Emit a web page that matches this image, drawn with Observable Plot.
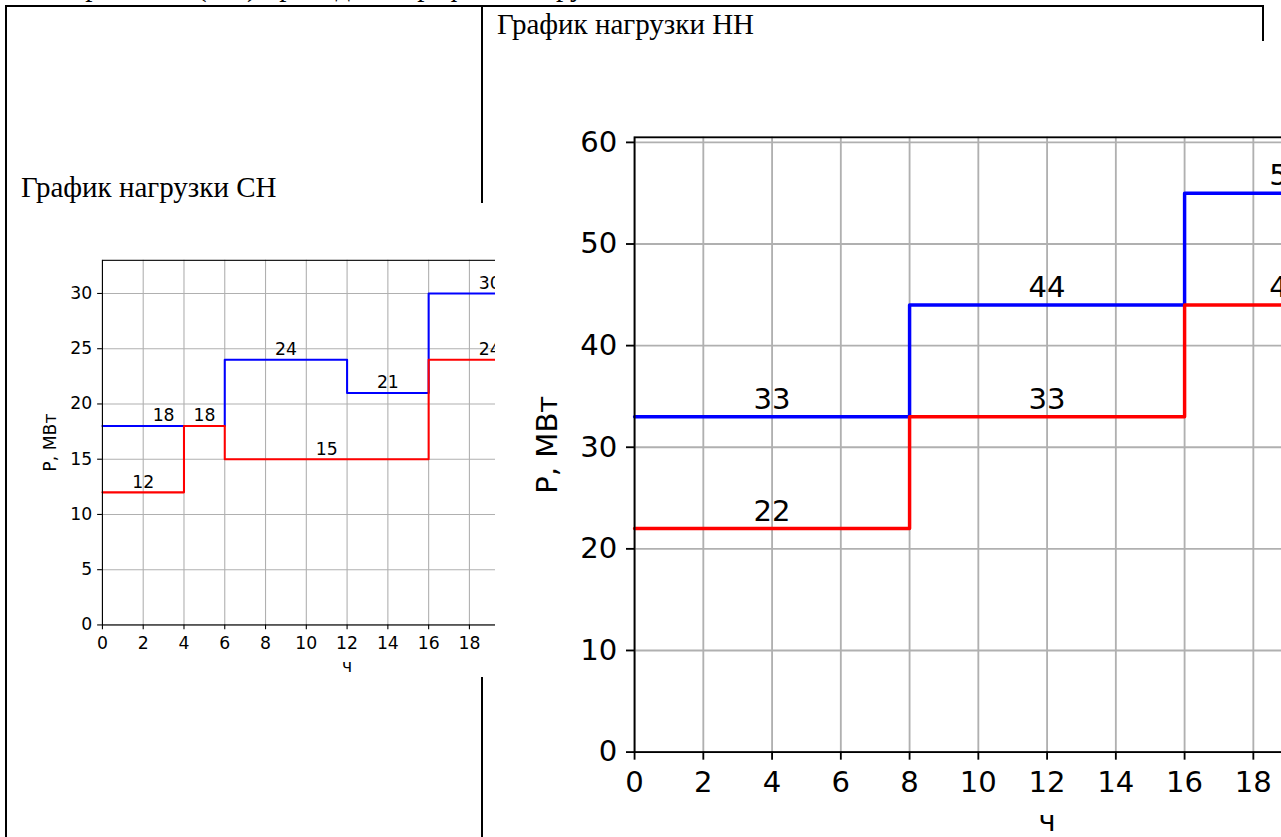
<!DOCTYPE html>
<html>
<head>
<meta charset="utf-8">
<script src="https://cdn.jsdelivr.net/npm/d3@7"></script>
<script src="https://cdn.jsdelivr.net/npm/@observablehq/plot@0.6"></script>
<style>
  html, body { margin: 0; padding: 0; width: 1281px; height: 837px; overflow: hidden; background: #fff; }
  .abs { position: absolute; }
  .cap { font-family: "Liberation Serif", "Times New Roman", serif; font-size: 29px; line-height: 29px; color: #000; white-space: nowrap; }
  .bd { position: absolute; background: #000; }
  .chartbox { position: absolute; overflow: hidden; background: #fff; }
  .chartbox svg { display: block; max-width: none !important; }
</style>
</head>
<body>
<!-- text line cut by the top of the window -->
<div class="cap abs" style="top:-28px; right:1091px; text-align:right;">Графики нагрузки для сети напряжения</div>
<div class="cap abs" style="top:-28px; left:197px;">(СН) приведены графики нагрузки</div>

<!-- table borders -->
<div class="bd" style="left:5px; top:5px; width:1259px; height:2px;"></div>
<div class="bd" style="left:5px; top:5px; width:2px; height:840px;"></div>
<div class="bd" style="left:481px; top:5px; width:2px; height:840px;"></div>
<div class="bd" style="left:1262px; top:5px; width:2px; height:840px;"></div>

<div class="chartbox" id="cn" style="left:23.4px; top:203.2px; width:471.6px; height:474px;"></div>
<div class="chartbox" id="nn" style="left:500.6px; top:40.5px; width:1065px; height:800px;"></div>

<div class="cap abs" style="left:21px; top:173px;">График нагрузки СН</div>
<div class="cap abs" style="left:497px; top:10px;">График нагрузки НН</div>

<script>
// ---------- data ----------
const hourTicks = [0, 2, 4, 6, 8, 10, 12, 14, 16, 18, 20, 22, 24];
const xDomain = [0, 24];

// СН (среднее напряжение)
const cnYTicks = [0, 5, 10, 15, 20, 25, 30];
const cnYMax = 33;
const cnBlueStart = [0, 6, 12, 16];
const cnBlueEnd   = [6, 12, 16, 22];
const cnBlueP     = [18, 24, 21, 30];
const cnRedStart  = [0, 4, 6, 16];
const cnRedEnd    = [4, 6, 16, 22];
const cnRedP      = [12, 18, 15, 24];

// НН (низшее напряжение)
const nnYTicks = [0, 10, 20, 30, 40, 50, 60];
const nnYMax = 60.5;
const nnStart   = [0, 8, 16];
const nnEnd     = [8, 16, 22];
const nnBlueP   = [33, 44, 55];
const nnRedP    = [22, 33, 44];

const yLabel = "P, МВт";
const xLabel = "ч";

// ---------- helpers ----------
function segs(starts, ends, vals) {
  return vals.map((v, i) => ({start: starts[i], end: ends[i], value: v}));
}
function stepPoints(s) {
  const pts = s.map(d => ({x: d.start, y: d.value}));
  const last = s[s.length - 1];
  pts.push({x: last.end, y: last.value});
  return pts;
}

function chart(k, yMax, yTicks, series) {
  const fs = 17.5 * k;
  return Plot.plot({
    width: 640 * k,
    height: 480 * k,
    marginLeft: 80 * k,
    marginRight: 64 * k,
    marginTop: 57.6 * k,
    marginBottom: 52.8 * k,
    style: {fontFamily: "'DejaVu Sans', sans-serif", fontSize: fs + "px", color: "#000", background: "#fff", overflow: "visible", maxWidth: "none"},
    x: {domain: xDomain},
    y: {domain: [0, yMax]},
    marks: [
      Plot.gridX(hourTicks, {stroke: "#b0b0b0", strokeOpacity: 1, strokeWidth: 1.11 * k}),
      Plot.gridY(yTicks, {stroke: "#b0b0b0", strokeOpacity: 1, strokeWidth: 1.11 * k}),
      ...series.map(s => Plot.line(stepPoints(s.segs), {x: "x", y: "y", curve: "step-after", stroke: s.color, strokeWidth: 2.08 * k})),
      Plot.frame({stroke: "#000", strokeWidth: 1.11 * k}),
      Plot.axisX(hourTicks, {tickSize: 4.86 * k, tickPadding: 7.0 * k, fontSize: fs, label: null, strokeWidth: 1.11 * k}),
      Plot.axisY(yTicks, {tickSize: 4.86 * k, tickPadding: 5.6 * k, fontSize: fs, label: null, strokeWidth: 1.11 * k}),
      ...series.map(s => Plot.text(s.segs, {
        x: d => (d.start + d.end) / 2, y: "value", text: d => String(d.value),
        fontSize: fs, fill: "#000", lineAnchor: "middle", dy: -4.7 * k - 0.32 * fs
      })),
      Plot.text([yLabel], {text: d => d, frameAnchor: "left", textAnchor: "middle", lineAnchor: "middle", rotate: -90, dx: -52.2 * k, fontSize: fs, fill: "#000"}),
      Plot.text([xLabel], {text: d => d, frameAnchor: "bottom", textAnchor: "middle", lineAnchor: "middle", dy: 47.3 * k - 0.32 * fs, fontSize: fs, fill: "#000"})
    ]
  });
}

const cnSeries = [
  {segs: segs(cnBlueStart, cnBlueEnd, cnBlueP), color: "#0000ff"},
  {segs: segs(cnRedStart, cnRedEnd, cnRedP), color: "#ff0000"}
];
const nnSeries = [
  {segs: segs(nnStart, nnEnd, nnBlueP), color: "#0000ff"},
  {segs: segs(nnStart, nnEnd, nnRedP), color: "#ff0000"}
];

document.getElementById("cn").appendChild(chart(0.98656, cnYMax, cnYTicks, cnSeries));
document.getElementById("nn").appendChild(chart(1.6634, nnYMax, nnYTicks, nnSeries));
</script>
</body>
</html>
